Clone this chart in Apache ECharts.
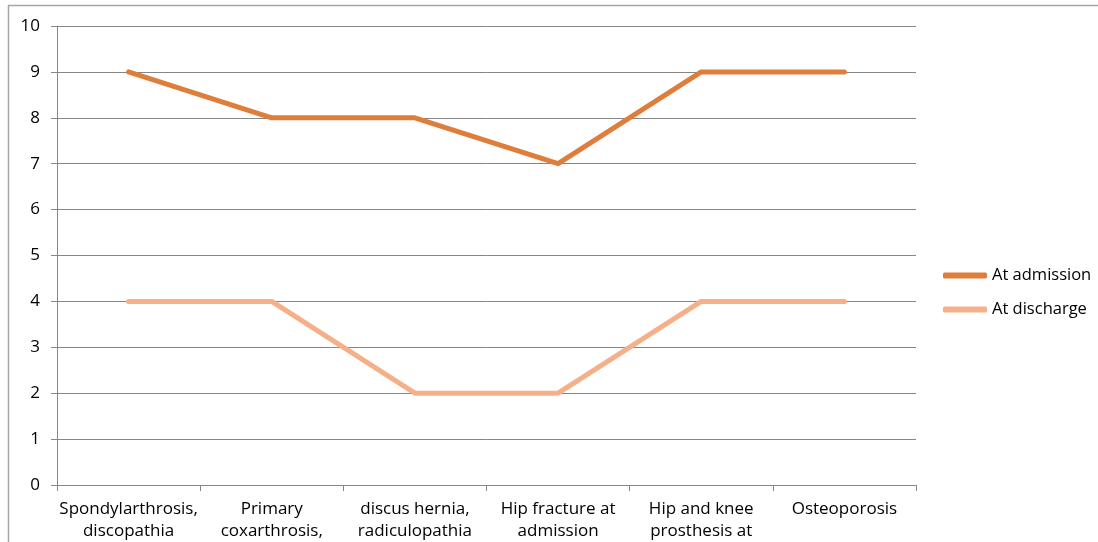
<!DOCTYPE html>
<html><head><meta charset="utf-8">
<script src="https://cdn.jsdelivr.net/npm/echarts@6/dist/echarts.min.js"></script>
<style>html,body{margin:0;padding:0;background:#fff}#c{width:1098px;height:542px}</style>
</head><body><div id="c"></div>
<script>
const categories = ["Spondylarthrosis,\ndiscopathia", "Primary\ncoxarthrosis,", "discus hernia,\nradiculopathia", "Hip fracture at\nadmission", "Hip and knee\nprosthesis at", "Osteoporosis"];
const admission = [9, 8, 8, 7, 9, 9];
const discharge = [4, 4, 2, 2, 4, 4];
const yTicks = [0, 1, 2, 3, 4, 5, 6, 7, 8, 9, 10];

const chart = echarts.init(document.getElementById('c'), null, {renderer: 'canvas'});
const font = '"Open Sans", "Liberation Sans", sans-serif';
chart.setOption({
  animation: false,
  textStyle: {fontFamily: font},
  graphic: [
    {type: 'line', shape: {x1: 8, y1: 5.5, x2: 1098, y2: 5.5}, style: {stroke: '#a6a6a6', lineWidth: 1.5}},
    {type: 'line', shape: {x1: 8.5, y1: 5, x2: 8.5, y2: 542}, style: {stroke: '#a6a6a6', lineWidth: 1.5}}
  ],
  grid: {left: 57, right: 182, top: 26, bottom: 57},
  legend: {
    orient: 'vertical', left: 938, top: 262, itemGap: 17,
    itemWidth: 44, itemHeight: 6, icon: 'roundRect',
    textStyle: {fontFamily: font, fontSize: 16.5, color: '#000'},
    data: ['At admission', 'At discharge']
  },
  xAxis: {
    type: 'category', data: categories, boundaryGap: true,
    axisLine: {lineStyle: {color: '#868686', width: 1}},
    axisTick: {show: true, length: 6, lineStyle: {color: '#868686'}, alignWithLabel: false},
    axisLabel: {interval: 0, color: '#000', fontSize: 17, lineHeight: 22, margin: 13, fontFamily: font}
  },
  yAxis: {
    type: 'value', min: yTicks[0], max: yTicks[yTicks.length - 1], interval: 1,
    axisLine: {show: true, lineStyle: {color: '#868686', width: 1}},
    axisTick: {show: true, length: 6, lineStyle: {color: '#868686'}},
    splitLine: {lineStyle: {color: '#868686', width: 1}},
    axisLabel: {color: '#000', fontSize: 17, margin: 17, fontFamily: font}
  },
  series: [
    {name: 'At admission', type: 'line', data: admission, symbol: 'none',
     lineStyle: {color: '#DE7E3A', width: 5, cap: 'round', join: 'round'}, itemStyle: {color: '#DE7E3A'}},
    {name: 'At discharge', type: 'line', data: discharge, symbol: 'none',
     lineStyle: {color: '#F5AF89', width: 5, cap: 'round', join: 'round'}, itemStyle: {color: '#F5AF89'}}
  ]
});
</script></body></html>
